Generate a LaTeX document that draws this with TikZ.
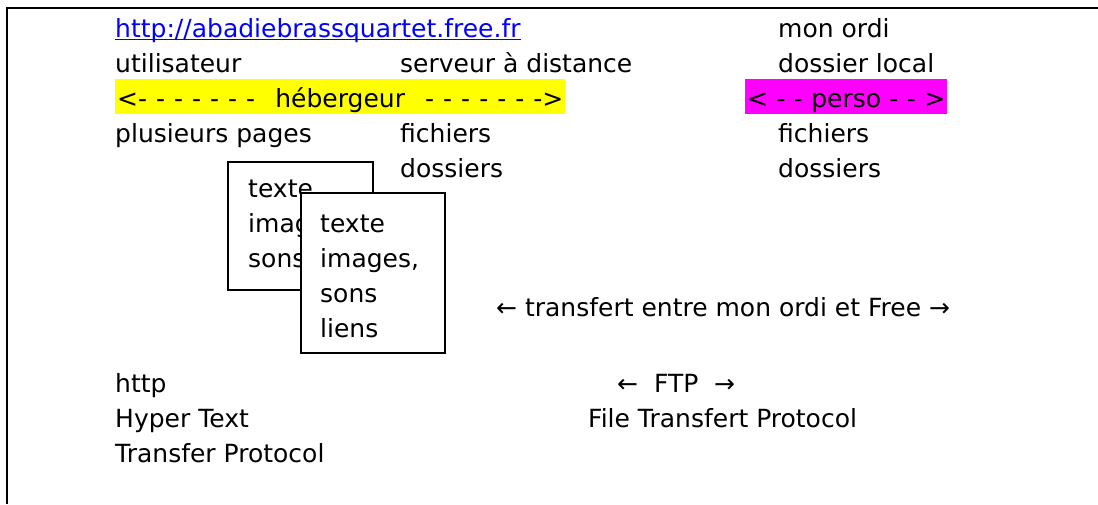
\documentclass[tikz,border=0pt]{standalone}
\usepackage{fontspec}
\setmainfont{DejaVu Sans}
\definecolor{linkblue}{RGB}{0,0,255}
\definecolor{hlyellow}{RGB}{255,255,0}
\definecolor{hlmagenta}{RGB}{255,0,255}
\begin{document}
\begin{tikzpicture}[x=1pt,y=-1pt,
  txt/.style={font=\fontsize{25}{35}\selectfont},
  lbl/.style={txt, anchor=base west, inner sep=0pt},
  band/.style={txt, anchor=base west, inner xsep=2pt, inner ysep=0pt,
               text height=28pt, text depth=7pt},
  pagebox/.style={draw, fill=white, line width=1.6pt, anchor=north west, inner sep=0pt},
  frame/.style={line width=2.4pt}]
\useasboundingbox (0,0) rectangle (1098,504);

% frame (top and left edges)
\coordinate (fTR) at (1098,7.7);
\coordinate (fTL) at (6.7,7.7);
\coordinate (fBL) at (6.7,504);
\draw[frame] (fTR) -- (fTL) -- (fBL);

% first row
\node[lbl, text=linkblue] (link) at (115,37) {http://abadiebrassquartet.free.fr};
\draw[linkblue, line width=1.5pt] ([yshift=-2.5pt]link.base west) -- ([yshift=-2.5pt]link.base east);
\node[lbl] (ordi) at (778,37) {mon ordi};

% second row
\node[lbl] (user) at (115,72) {utilisateur};
\node[lbl] (serveur) at (400,72) {serveur à distance};
\node[lbl] (local) at (778,72) {dossier local};

% highlighted bands
\node[band, fill=hlyellow] (heberg) at (115,107)
  {\makebox[446pt]{\makebox[138pt][s]{<- - - - - - -}\hfill hébergeur\hfill\makebox[138pt][s]{- - - - - - ->}}};
\node[band, fill=hlmagenta] (perso) at (745,107)
  {\makebox[198pt][s]{< - - perso - - >}};

% fourth and fifth rows
\node[lbl] (pages) at (115,142) {plusieurs pages};
\node[lbl] (fich1) at (400,142) {fichiers};
\node[lbl] (fich2) at (778,142) {fichiers};
\node[lbl] (doss1) at (400,177) {dossiers};
\node[lbl] (doss2) at (778,177) {dossiers};

% stacked pages
\node[pagebox, minimum width=145pt, minimum height=128pt] (page1) at (227,161) {};
\node[lbl] (p1a) at (248,197) {texte};
\node[lbl] (p1b) at (248,232) {images,};
\node[lbl] (p1c) at (248,267) {sons};
\node[pagebox, minimum width=144pt, minimum height=160pt] (page2) at (300,192) {};
\node[lbl] (p2a) at (320,232) {texte};
\node[lbl] (p2b) at (320,267) {images,};
\node[lbl] (p2c) at (320,302) {sons};
\node[lbl] (p2d) at (320,337) {liens};

% transfer line
\node[lbl] (transfert) at (496,316) {← transfert entre mon ordi et Free →};

% protocols
\node[lbl] (http) at (115,392) {http};
\node[lbl] (hyper) at (115,427) {Hyper Text};
\node[lbl] (tproto) at (115,462) {Transfer Protocol};
\node[lbl] (ftp) at (617,392) {←~~FTP~~→};
\node[lbl] (fproto) at (588,427) {File Transfert Protocol};
\end{tikzpicture}
\end{document}
